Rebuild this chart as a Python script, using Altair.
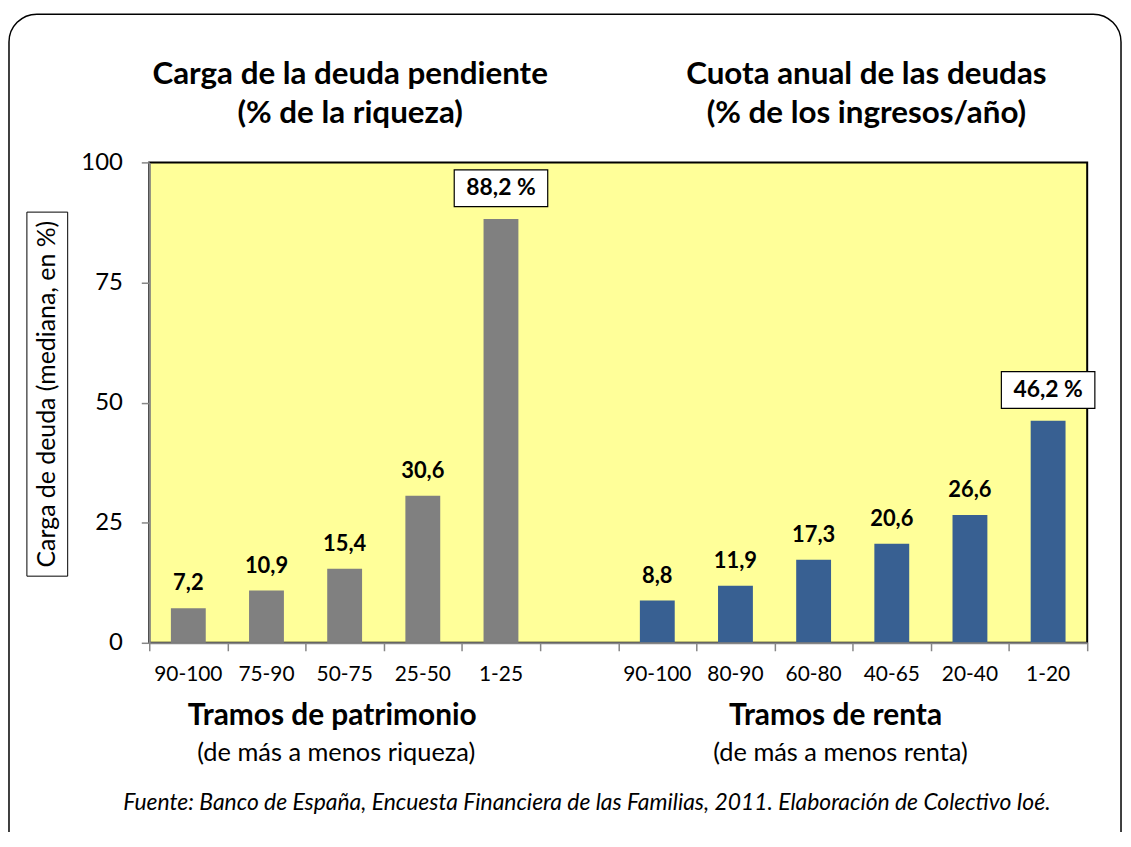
import altair as alt
import pandas as pd

# ---------------- data ----------------
left_cats = ["90-100", "75-90", "50-75", "25-50", "1-25"]
left_vals = [7.2, 10.9, 15.4, 30.6, 88.2]
right_cats = ["90-100", "80-90", "60-80", "40-65", "20-40", "1-20"]
right_vals = [8.8, 11.9, 17.3, 20.6, 26.6, 46.2]
gap_slots = 1
y_ticks = [0, 25, 50, 75, 100]

group_titles = [
    ["Carga de la deuda pendiente", "(% de la riqueza)"],
    ["Cuota anual de las deudas", "(% de los ingresos/año)"],
]
group_axis_titles = [
    ["Tramos de patrimonio", "(de más a menos riqueza)"],
    ["Tramos de renta", "(de más a menos renta)"],
]
y_title = "Carga de deuda (mediana, en %)"
footer = "Fuente: Banco de España, Encuesta Financiera de las Familias, 2011. Elaboración de Colectivo Ioé."

rows = []
for i, (c, v) in enumerate(zip(left_cats, left_vals)):
    rows.append(dict(slot=i, cat=c, val=v, grp="patrimonio"))
off = len(left_cats) + gap_slots
for i, (c, v) in enumerate(zip(right_cats, right_vals)):
    rows.append(dict(slot=off + i, cat=c, val=v, grp="renta"))
df = pd.DataFrame(rows)
df["mid"] = df["slot"] + 0.5
df["label"] = df["val"].map(lambda v: f"{v:.1f}".replace(".", ","))
df["is_max"] = df.groupby("grp")["val"].transform("max") == df["val"]
df["boxlabel"] = df["label"] + " %"
n_slots = len(left_cats) + gap_slots + len(right_cats)

# ---------------- layout ----------------
W, H = 943, 483
FONT = "Lato"
GRAY = "#868686"
one = alt.Data(values=[{}])

xs = alt.Scale(domain=[0, n_slots], nice=False, zero=False)
ys = alt.Scale(domain=[0, 100], nice=False)

half = 0.223
bars = alt.Chart(df).transform_calculate(
    x0=f"datum.mid - {half}", x1=f"datum.mid + {half}"
).mark_bar().encode(
    x=alt.X("x0:Q", scale=xs, axis=alt.Axis(values=list(range(n_slots + 1)), labels=False, title=None,
                                            grid=False, domainColor=GRAY, domainWidth=2, tickColor=GRAY,
                                            tickWidth=1.5, tickSize=8, zindex=1)),
    x2="x1:Q",
    y=alt.Y("val:Q", scale=ys, axis=alt.Axis(values=y_ticks, title=None, grid=False, domainColor=GRAY,
                                             domainWidth=2, tickColor=GRAY, tickWidth=1.5, tickSize=8,
                                             labelFontSize=24, labelFont=FONT, labelColor="black",
                                             labelPadding=19, zindex=1)),
    y2=alt.datum(0),
    color=alt.Color("grp:N", scale=alt.Scale(domain=["patrimonio", "renta"], range=["#808080", "#386092"]),
                    legend=None),
)

vlabels = alt.Chart(df).transform_filter("!datum.is_max").mark_text(
    font=FONT, fontSize=22, fontWeight="bold", color="black", baseline="middle", dy=-25
).encode(x=alt.X("mid:Q", scale=xs), y=alt.Y("val:Q", scale=ys), text="label:N")

boxes = alt.Chart(df).transform_filter("datum.is_max").mark_rect(
    width=94, height=37, fill="white", stroke="black", strokeWidth=1.2, yOffset=-31
).encode(x=alt.X("mid:Q", scale=xs), y=alt.Y("val:Q", scale=ys))

boxtext = alt.Chart(df).transform_filter("datum.is_max").mark_text(
    font=FONT, fontSize=23, fontWeight="bold", color="black", baseline="middle", dy=-31
).encode(x=alt.X("mid:Q", scale=xs), y=alt.Y("val:Q", scale=ys), text="boxlabel:N")

catlabels = alt.Chart(df).mark_text(
    font=FONT, fontSize=21, color="black", baseline="middle"
).encode(x=alt.X("mid:Q", scale=xs), y=alt.value(H + 32), text="cat:N")


def txt(s, x, y, size, weight="normal", style="normal", angle=0):
    kw = dict(text=s, font=FONT, fontSize=size, fontWeight=weight, fontStyle=style, color="black",
              baseline="middle", align="center")
    if angle:
        kw["angle"] = angle
    return alt.Chart(one).mark_text(**kw).encode(x=alt.value(x), y=alt.value(y))


annots = [
    txt(group_titles[0][0], 202, -88, 31.5, "bold"),
    txt(group_titles[0][1], 202, -49, 31.5, "bold"),
    txt(group_titles[1][0], 721, -88, 31.5, "bold"),
    txt(group_titles[1][1], 721, -49, 31.5, "bold"),
    txt(group_axis_titles[0][0], 184, 557, 30, "bold"),
    txt(group_axis_titles[0][1], 188, 594, 25.5),
    txt(group_axis_titles[1][0], 690, 557, 30, "bold"),
    txt(group_axis_titles[1][1], 695, 594, 25.5),
    txt(footer, 440, 644, 23, style="italic"),
    txt(y_title, -103, 233, 25, angle=270),
]

ybox = alt.Chart(one).mark_rect(fill="white", stroke="black", strokeWidth=1).encode(
    x=alt.value(-123), x2=alt.value(-82), y=alt.value(50), y2=alt.value(416)
)

frame = alt.Chart(one).mark_rect(cornerRadius=28, fill="transparent", stroke="black", strokeWidth=1.5).encode(
    x=alt.value(-141), x2=alt.value(977), y=alt.value(-149), y2=alt.value(760)
)

chart = alt.layer(frame, bars, vlabels, boxes, boxtext, catlabels, ybox, *annots).properties(
    width=W, height=H,
    autosize=alt.AutoSizeParams(type="none"),
    padding={"left": 142, "top": 153, "right": 36, "bottom": 188},
    background="white",
).configure_view(fill="#FFFF99", stroke="black", strokeWidth=2)

chart.save("out.html", embed_options={"renderer": "svg", "actions": False})
